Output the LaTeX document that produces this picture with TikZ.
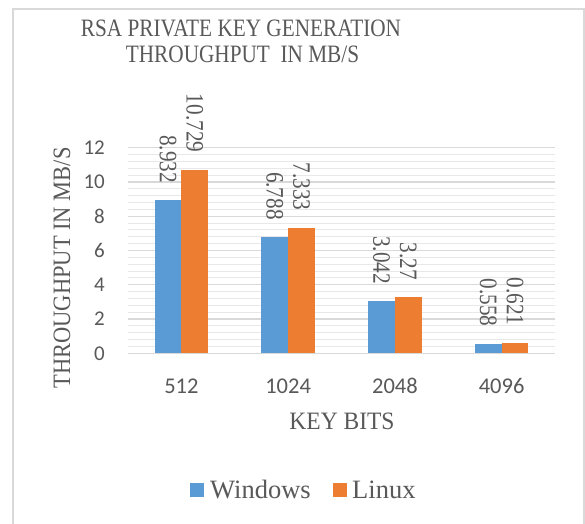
\documentclass[tikz,border=0pt]{standalone}
\usepackage{fontspec}
\setmainfont{Liberation Serif}
\newfontfamily\calibri{Carlito}
\definecolor{txt}{HTML}{595959}
\definecolor{winblue}{HTML}{5B9BD5}
\definecolor{linorange}{HTML}{ED7D31}
\definecolor{majgrid}{HTML}{D9D9D9}
\definecolor{mingrid}{HTML}{E8E8E8}
\definecolor{framegray}{HTML}{D9D9D9}
\begin{document}
\begin{tikzpicture}[x=1pt,y=-1pt,
  serif/.style={font=\fontsize{25}{28}\selectfont, text=txt, inner sep=0},
  tick/.style={font=\calibri\fontsize{21}{24}\selectfont, text=txt, inner sep=0},
  cat/.style={font=\calibri\fontsize{22.5}{26}\selectfont, text=txt, inner sep=0},
  val/.style={font=\fontsize{25}{28}\selectfont, text=txt, inner sep=0, rotate=-90, anchor=east},
  legtext/.style={font=\fontsize{26.5}{30}\selectfont, text=txt, inner sep=0, anchor=base west},
  winbar/.style={fill=winblue},
  linbar/.style={fill=linorange},
  majline/.style={draw=majgrid, line width=1.4},
  minline/.style={draw=mingrid, line width=1}]
\useasboundingbox (0,0) rectangle (585,523);
\fill[white] (0,0) rectangle (585,523);
% chart frame
\coordinate (fbl) at (12.5,530);
\coordinate (ftl) at (12.5,8.5);
\coordinate (ftr) at (583.5,8.5);
\coordinate (fbr) at (583.5,530);
\draw[framegray, line width=2] (fbl) -- (ftl) -- (ftr) -- (fbr);
% minor grid
\foreach \i in {1,...,30}{
  \coordinate (ml\i) at (128,353.3-\i*6.852);
  \coordinate (mr\i) at (555,353.3-\i*6.852);
  \draw[minline] (ml\i) -- (mr\i);
}
% major grid
\foreach \v in {0,2,...,12}{
  \coordinate (gl\v) at (128,353.3-\v*17.13);
  \coordinate (gr\v) at (555,353.3-\v*17.13);
  \draw[majline] (gl\v) -- (gr\v);
  \node[tick, anchor=east] (t\v) at (105,353.3-\v*17.13) {\v};
}
% bars and labels
\foreach \c/\w/\l/\n in {181.4/8.932/10.729/512, 288.1/6.788/7.333/1024, 394.9/3.042/3.27/2048, 501.6/0.558/0.621/4096}{
  \fill[winbar] (\c-26.7,353.3) rectangle (\c,353.3-\w*17.13);
  \fill[linbar] (\c,353.3) rectangle (\c+26.7,353.3-\l*17.13);
  \node[val] (vw\n) at (\c-13.35,353.3-\w*17.13-17) {\scalebox{0.85}[1]{\w}};
  \node[val] (vl\n) at (\c+13.35,353.3-\l*17.13-17) {\scalebox{0.85}[1]{\l}};
  \node[cat] (c\n) at (\c,386) {\n};
}
% titles
\node[serif, anchor=base] (title1) at (241,36) {\scalebox{0.85}[1]{RSA PRIVATE KEY GENERATION}};
\node[serif, anchor=base] (title2) at (242.5,62.3) {\scalebox{0.85}[1]{THROUGHPUT\ \ IN MB/S}};
\node[serif, anchor=base, rotate=90] (ytitle) at (70,268) {\scalebox{0.9}[1]{THROUGHPUT IN MB/S}};
\node[serif] (xtitle) at (342,421.7) {\scalebox{0.94}[1]{KEY BITS}};
% legend
\node[fill=winblue, minimum size=14, inner sep=0] (lgw) at (197,490) {};
\node[legtext] (lgwt) at (210,498.3) {Windows};
\node[fill=linorange, minimum size=14, inner sep=0] (lgl) at (340,490) {};
\node[legtext] (lglt) at (352,498.3) {Linux};
\end{tikzpicture}
\end{document}
